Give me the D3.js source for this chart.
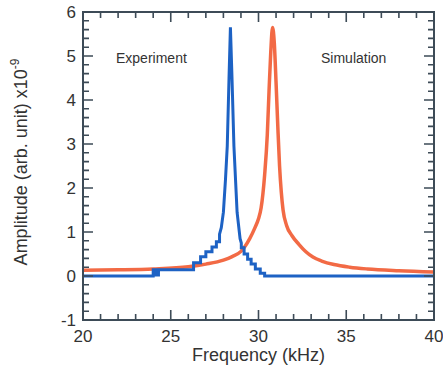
<!DOCTYPE html>
<html>
<head>
<meta charset="utf-8">
<script src="https://cdn.jsdelivr.net/npm/d3@7"></script>
</head>
<body style="margin:0; background:#fff">
<svg id="chart" width="443" height="379" font-family="Liberation Sans, Arial, sans-serif"></svg>
<script>
// experiment (stepped measurement)
var expFreq = [20, 24.0, 24.0, 24.15, 24.15, 24.3, 24.3, 24.45, 24.45, 26.3, 26.3, 26.7, 26.7, 27.0, 27.0, 27.35, 27.35, 27.6, 27.6, 27.78, 27.78, 27.88, 28.0, 28.12, 28.22, 28.32, 28.4, 28.49, 28.6, 28.69, 28.78, 28.95, 29.02, 29.02, 29.18, 29.18, 29.38, 29.38, 29.58, 29.58, 29.82, 29.82, 30.1, 30.1, 30.35, 30.35, 40];
var expAmp  = [0, 0, 0.14, 0.14, 0.02, 0.02, 0.14, 0.14, 0.14, 0.14, 0.3, 0.3, 0.44, 0.44, 0.55, 0.55, 0.66, 0.66, 0.78, 0.78, 0.95, 1.1, 1.45, 2.2, 2.95, 4.5, 5.65, 4.5, 2.95, 2.2, 1.45, 0.85, 0.75, 0.64, 0.64, 0.5, 0.5, 0.38, 0.38, 0.27, 0.27, 0.16, 0.16, 0.06, 0.06, 0, 0];

// simulation
var simFreq = [20, 22, 24, 26, 27, 28, 28.5, 29, 29.5, 29.8, 30.0, 30.15, 30.35, 30.5, 30.6, 30.7, 30.8, 30.9, 31.0, 31.1, 31.2, 31.3, 31.4, 31.6, 31.9, 32.3, 32.7, 33.1, 33.6, 34.3, 35.2, 36.2, 38, 40];
var simAmp  = [0.13, 0.14, 0.16, 0.21, 0.27, 0.36, 0.44, 0.56, 0.85, 1.1, 1.3, 1.55, 2.3, 3.2, 4.2, 5.1, 5.65, 5.3, 4.4, 3.4, 2.5, 1.9, 1.5, 1.15, 0.92, 0.72, 0.55, 0.43, 0.34, 0.26, 0.2, 0.16, 0.12, 0.09];

var xTicks = [20, 25, 30, 35, 40];
var yTicks = [-1, 0, 1, 2, 3, 4, 5, 6];
var xMinor = d3.range(20, 40.01, 1);
var yMinor = d3.range(-1, 6.01, 0.2);

var svg = d3.select("#chart");
var pLeft = 83, pRight = 434, pTop = 12, pBottom = 320;

var x = d3.scaleLinear().domain([20, 40]).range([pLeft, pRight]);
var y = d3.scaleLinear().domain([-1, 6]).range([pBottom, pTop]);

var frameColor = "#3d4b57";
var textColor = "#333333";

// curves
var line = d3.line()
  .x(function (d) { return x(d[0]); })
  .y(function (d) { return y(d[1]); });

svg.append("path")
  .datum(d3.zip(simFreq, simAmp))
  .attr("fill", "none")
  .attr("stroke", "#f26a45")
  .attr("stroke-width", 3.5)
  .attr("stroke-linejoin", "round")
  .attr("d", line.curve(d3.curveMonotoneX));

svg.append("path")
  .datum(d3.zip(expFreq, expAmp))
  .attr("fill", "none")
  .attr("stroke", "#1d62c4")
  .attr("stroke-width", 3)
  .attr("d", line.curve(d3.curveLinear));

// frame
svg.append("rect")
  .attr("x", pLeft)
  .attr("y", pTop)
  .attr("width", pRight - pLeft)
  .attr("height", pBottom - pTop)
  .attr("fill", "none")
  .attr("stroke", frameColor)
  .attr("stroke-width", 2);

// inward ticks on all four sides
var tickPath = "";
xMinor.forEach(function (d) {
  var len = Math.abs(d % 5) < 1e-6 ? 10 : 6;
  tickPath += "M" + x(d) + "," + pBottom + "v" + (-len);
  tickPath += "M" + x(d) + "," + pTop + "v" + len;
});
yMinor.forEach(function (d) {
  var len = Math.abs(d - Math.round(d)) < 1e-6 ? 10 : 6;
  tickPath += "M" + pLeft + "," + y(d) + "h" + len;
  tickPath += "M" + pRight + "," + y(d) + "h" + (-len);
});
svg.append("path")
  .attr("d", tickPath)
  .attr("fill", "none")
  .attr("stroke", frameColor)
  .attr("stroke-width", 1.6);

// tick labels
svg.selectAll(null)
  .data(xTicks)
  .enter()
  .append("text")
  .attr("x", function (d) { return x(d); })
  .attr("y", pBottom + 22)
  .attr("text-anchor", "middle")
  .attr("fill", textColor)
  .style("font-size", "17px")
  .text(function (d) { return d; });

svg.selectAll(null)
  .data(yTicks)
  .enter()
  .append("text")
  .attr("x", pLeft - 7)
  .attr("y", function (d) { return y(d) + 6; })
  .attr("text-anchor", "end")
  .attr("fill", textColor)
  .style("font-size", "17px")
  .text(function (d) { return d; });

// series labels
svg.append("text").attr("x", 116).attr("y", 63)
  .attr("fill", textColor).style("font-size", "14px").text("Experiment");
svg.append("text").attr("x", 321).attr("y", 63)
  .attr("fill", textColor).style("font-size", "14px").text("Simulation");

// axis titles
svg.append("text")
  .attr("x", (pLeft + pRight) / 2)
  .attr("y", 361)
  .attr("text-anchor", "middle")
  .attr("fill", textColor)
  .style("font-size", "18px")
  .text("Frequency (kHz)");

var yt = svg.append("text")
  .attr("transform", "translate(27," + ((pTop + pBottom) / 2 - 4) + ") rotate(-90)")
  .attr("text-anchor", "middle")
  .attr("fill", textColor)
  .style("font-size", "18px");
yt.append("tspan").text("Amplitude (arb. unit) x10");
yt.append("tspan").attr("dy", -8).style("font-size", "12px").text("-9");
</script>
</body>
</html>
